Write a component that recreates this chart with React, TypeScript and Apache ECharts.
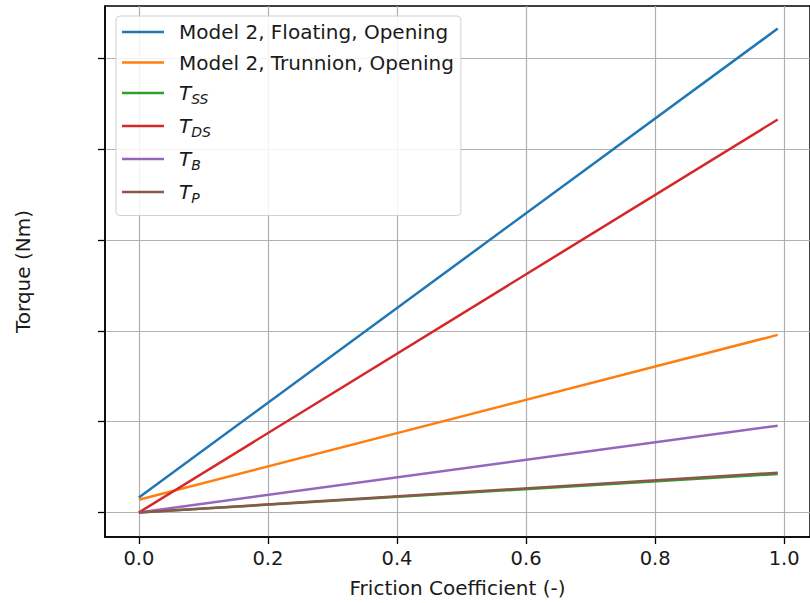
import React, { useEffect, useRef } from "react";
import * as echarts from "echarts";

const xValues = [0, 0.99];
const floatingOpening = [0.165, 5.327];
const trunnionOpening = [0.14, 1.955];
const tSS = [0, 0.424];
const tDS = [0, 4.326];
const tB = [0, 0.955];
const tP = [0, 0.438];

const xTicks = [0, 0.2, 0.4, 0.6, 0.8, 1.0];
const yTicks = [0, 1, 2, 3, 4, 5];

const seriesNames = [
  "Model 2, Floating, Opening",
  "Model 2, Trunnion, Opening",
  "T_SS",
  "T_DS",
  "T_B",
  "T_P",
];
const seriesData = [floatingOpening, trunnionOpening, tSS, tDS, tB, tP];
const colors = ["#1f77b4", "#ff7f0e", "#2ca02c", "#d62728", "#9467bd", "#8c564b"];

const FONT = "DejaVu Sans";

export default function App() {
  const ref = useRef<HTMLDivElement>(null);
  useEffect(() => {
    if (!ref.current) return;
    const chart = echarts.init(ref.current, undefined, { renderer: "svg" });
    const series = seriesNames.map((name, i) => ({
      name,
      type: "line",
      data: xValues.map((x, j) => [x, seriesData[i][j]]),
      symbol: "none",
      lineStyle: { color: colors[i], width: 2.5 },
      itemStyle: { color: colors[i] },
      z: 3,
    }));
    chart.setOption({
      animation: false,
      textStyle: { fontFamily: FONT },
      grid: {
        left: 105,
        top: 6,
        width: 713,
        height: 531,
        show: true,
        borderColor: "#000",
        borderWidth: 1.5,
        backgroundColor: "transparent",
      },
      legend: {
        left: 116,
        top: 16,
        orient: "vertical",
        itemWidth: 42,
        itemHeight: 14,
        itemGap: 10.5,
        padding: [6, 7, 11, 6],
        backgroundColor: "rgba(255,255,255,0.85)",
        borderColor: "#d0d0d0",
        borderWidth: 1,
        borderRadius: 4,
        icon: "path://M0,0 L42,0 L42,2.5 L0,2.5 Z",
        data: seriesNames,
        formatter: (name: string) => {
          if (name.startsWith("T_")) {
            return "{i|T}{s|" + name.slice(2) + "}";
          }
          return "{n|" + name + "}";
        },
        textStyle: {
          fontFamily: FONT,
          color: "#1a1a1a",
          padding: [0, 0, 0, 10],
          rich: {
            n: { fontFamily: FONT, fontSize: 20, lineHeight: 22, color: "#1a1a1a" },
            i: {
              fontFamily: FONT,
              fontSize: 20,
              fontStyle: "italic",
              lineHeight: 25,
              color: "#1a1a1a",
            },
            s: {
              fontFamily: FONT,
              fontSize: 14,
              fontStyle: "italic",
              lineHeight: 14,
              verticalAlign: "bottom",
              color: "#1a1a1a",
            },
          },
        },
      },
      xAxis: {
        type: "value",
        min: -0.0525,
        max: 1.04,
        name: "Friction Coefficient (-)",
        nameLocation: "middle",
        nameGap: 41,
        nameTextStyle: { fontFamily: FONT, fontSize: 20, color: "#1a1a1a" },
        axisLine: { show: true, onZero: false, lineStyle: { color: "#000", width: 1.5 } },
        axisTick: { show: true, length: 7, customValues: xTicks, lineStyle: { color: "#000", width: 1.3 } },
        axisLabel: {
          show: true,
          customValues: xTicks,
          margin: 11,
          fontFamily: FONT,
          fontSize: 19.5,
          color: "#1a1a1a",
          formatter: (v: number) => v.toFixed(1),
        },
        splitLine: { show: true, lineStyle: { color: "#b0b0b0", width: 1.2 } },
      },
      yAxis: {
        type: "value",
        min: -0.27,
        max: 5.575,
        name: "Torque (Nm)",
        nameLocation: "middle",
        nameGap: 72,
        nameTextStyle: { fontFamily: FONT, fontSize: 20, color: "#1a1a1a" },
        axisLine: { show: true, onZero: false, lineStyle: { color: "#000", width: 1.5 } },
        axisTick: { show: true, length: 7, customValues: yTicks, lineStyle: { color: "#000", width: 1.3 } },
        axisLabel: { show: false },
        splitLine: { show: true, lineStyle: { color: "#b0b0b0", width: 1.2 } },
      },
      series,
    });
    return () => chart.dispose();
  }, []);
  return <div ref={ref} style={{ width: 810, height: 603, position: "absolute", left: 0, top: 0 }} />;
}
